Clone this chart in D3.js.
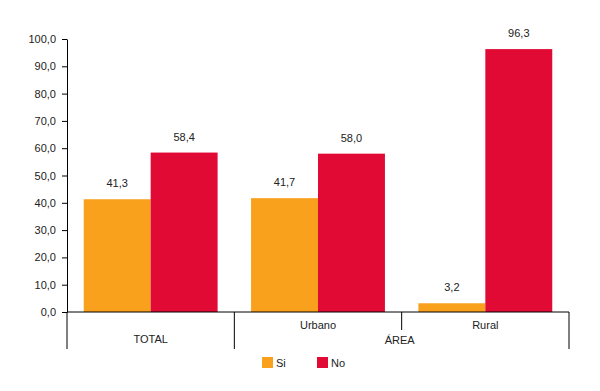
<!DOCTYPE html>
<html>
<head>
<meta charset="utf-8">
<script src="https://cdn.jsdelivr.net/npm/d3@7"></script>
<style>
  body { margin: 0; background: #fff; }
  text { font-family: "Liberation Sans", Arial, sans-serif; fill: #222; }
</style>
</head>
<body>
<svg></svg>
<script>
var width = 600;
var height = 391;

// data
var categories = ['TOTAL', 'Urbano', 'Rural'];
var series = ['Si', 'No'];
var siValues = [41.3, 41.7, 3.2];
var noValues = [58.4, 58.0, 96.3];
var colors = ['#F9A01C', '#E00A34'];
var yTicks = [0, 10, 20, 30, 40, 50, 60, 70, 80, 90, 100];

var margin = {left: 67, right: 31, top: 39, bottom: 79};

var svg = d3.select('svg')
			.attr('width', width)
			.attr('height', height);

var fmt = v => d3.format('.1f')(v).replace('.', ',');

var xScale = d3.scaleBand()
			   .domain(categories)
			   .range([margin.left, width - margin.right])
			   .padding(0);
var xInner = d3.scaleBand()
			   .domain(series)
			   .range([0, xScale.bandwidth()])
			   .paddingInner(0)
			   .paddingOuter(0.25);
var yScale = d3.scaleLinear()
			   .domain([0, 100])
			   .range([height - margin.bottom, margin.top]);

var rows = categories.map((c, i) => ({cat: c, values: [siValues[i], noValues[i]]}));

var groups = svg.selectAll('.group')
				.data(rows)
				.enter()
				.append('g')
				  .attr('transform', d => `translate(${xScale(d.cat)}, 0)`);

groups.selectAll('rect')
	  .data(d => d.values.map((v, i) => ({s: series[i], v: v, i: i})))
	  .enter()
	  .append('rect')
		.attr('x', d => xInner(d.s))
		.attr('width', xInner.bandwidth())
		.attr('y', d => yScale(d.v))
		.attr('height', d => yScale(0) - yScale(d.v))
		.attr('fill', d => colors[d.i]);

groups.selectAll('.label')
	  .data(d => d.values.map((v, i) => ({s: series[i], v: v})))
	  .enter()
	  .append('text')
		.attr('x', d => xInner(d.s) + xInner.bandwidth() / 2)
		.attr('y', d => yScale(d.v) - 12)
		.attr('text-anchor', 'middle')
		.attr('font-size', 11)
		.text(d => fmt(d.v));

// y axis
var yAxis = d3.axisLeft(yScale)
			  .tickValues(yTicks)
			  .tickSize(5)
			  .tickSizeOuter(0)
			  .tickPadding(6)
			  .tickFormat(fmt);
var yg = svg.append('g')
			.attr('transform', `translate(${margin.left}, 0)`)
			.call(yAxis);
yg.selectAll('text').attr('font-size', 11).style('font-family', '"Liberation Sans", Arial, sans-serif').attr('fill', '#222');
yg.selectAll('line, path').attr('stroke', '#000');

// category axis with group dividers
var base = yScale(0);
var xr = xScale.range();
svg.append('line')
   .attr('x1', xr[0]).attr('x2', xr[1])
   .attr('y1', base).attr('y2', base)
   .attr('stroke', '#000');

var dividers = [
	{x: xScale('TOTAL'), len: 37},
	{x: xScale('Urbano'), len: 37},
	{x: xScale('Rural'), len: 18},
	{x: xr[1], len: 37}
];
svg.selectAll('.divider')
   .data(dividers)
   .enter()
   .append('line')
	 .attr('x1', d => d.x).attr('x2', d => d.x)
	 .attr('y1', base).attr('y2', d => base + d.len)
	 .attr('stroke', '#000');

svg.append('text')
   .attr('x', xScale('TOTAL') + xScale.bandwidth() / 2)
   .attr('y', base + 31)
   .attr('text-anchor', 'middle')
   .attr('font-size', 11)
   .text('TOTAL');
['Urbano', 'Rural'].forEach(c => {
	svg.append('text')
	   .attr('x', xScale(c) + xScale.bandwidth() / 2)
	   .attr('y', base + 17)
	   .attr('text-anchor', 'middle')
	   .attr('font-size', 11)
	   .text(c);
});
svg.append('text')
   .attr('x', xScale('Rural') - 2)
   .attr('y', base + 32)
   .attr('text-anchor', 'middle')
   .attr('font-size', 11)
   .text('ÁREA');

// legend
var legend = svg.selectAll('.legend')
				.data(series)
				.enter()
				.append('g')
				  .attr('transform', (d, i) => `translate(${262 + i * 55}, 357)`);
legend.append('rect')
	  .attr('width', 11)
	  .attr('height', 11)
	  .attr('fill', (d, i) => colors[i]);
legend.append('text')
	  .attr('x', 14)
	  .attr('y', 10)
	  .attr('font-size', 11)
	  .text(d => d);
</script>
</body>
</html>
